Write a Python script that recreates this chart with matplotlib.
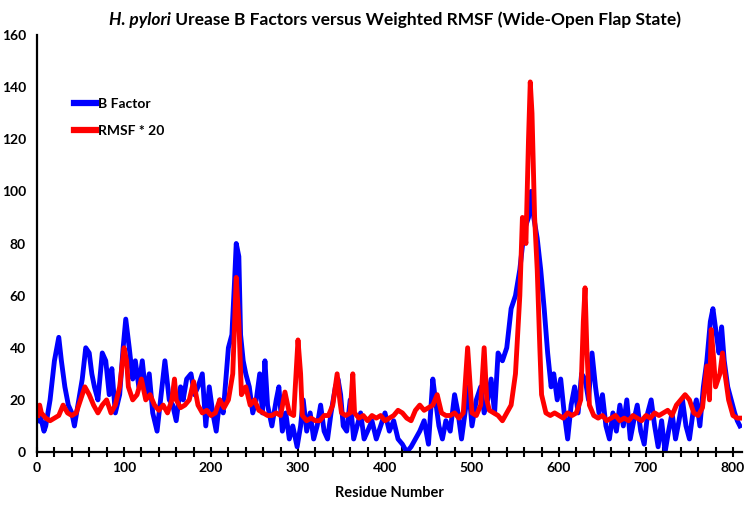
import matplotlib
matplotlib.use("Agg")
import matplotlib.pyplot as plt
from matplotlib.ticker import MultipleLocator, FuncFormatter

plt.rcParams['font.family'] = ['Lato', 'DejaVu Sans']

# B factor (blue) readings: residue, value
bf_res = [1, 3, 8, 10, 15, 20, 25, 28, 32, 36, 40, 43, 47, 52, 56, 60, 63, 66, 70, 75, 79, 83, 86, 90, 95, 99,
          102, 106, 110, 113, 117, 121, 125, 129, 133, 138, 142, 147, 152, 156, 160, 165, 168, 172, 177, 181,
          185, 190, 194, 198, 202, 206, 210, 214, 220, 224, 227, 229, 232, 234, 237, 240, 244, 248, 252, 256,
          259, 262, 265, 270, 275, 278, 282, 286, 290, 294, 299, 303, 306, 310, 314, 318, 322, 326, 330, 334,
          338, 343, 346, 349, 352, 356, 360, 364, 368, 372, 376, 380, 385, 390, 395, 400, 405, 410, 415, 420,
          425, 430, 435, 440, 445, 450, 455, 458, 462, 466, 470, 475, 480, 484, 488, 492, 496, 500, 505, 510,
          514, 518, 522, 526, 530, 535, 540, 545, 550, 555, 560, 565, 568, 571, 575, 579, 583, 587, 591, 594,
          598, 602, 606, 610, 614, 618, 622, 626, 630, 634, 638, 642, 646, 650, 654, 658, 662, 666, 670, 674,
          678, 682, 686, 690, 694, 698, 702, 706, 710, 714, 718, 722, 726, 730, 734, 738, 742, 746, 750, 754,
          758, 762, 766, 770, 774, 777, 781, 784, 787, 790, 794, 798, 802, 805, 808]
bf_val = [12, 15, 8, 10, 20, 35, 44, 35, 25, 18, 15, 10, 18, 28, 40, 38, 30, 25, 20, 38, 35, 22, 32, 15, 22, 40,
          51, 40, 28, 35, 25, 35, 22, 30, 15, 8, 20, 35, 20, 18, 12, 25, 20, 28, 30, 22,
          25, 30, 10, 25, 15, 8, 20, 15, 40, 45, 65, 80, 75, 45, 35, 30, 25, 15, 20, 30,
          15, 35, 18, 10, 20, 25, 8, 15, 5, 10, 2, 10, 20, 8, 15, 5, 10, 18, 8, 5,
          15, 25, 28, 22, 10, 8, 20, 5, 10, 15, 5, 8, 12, 5, 10, 15, 8, 12, 5, 3,
          0, 2, 5, 8, 12, 3, 28, 20, 10, 5, 12, 8, 22, 15, 5, 15, 25, 10, 20, 25,
          15, 20, 28, 15, 38, 35, 40, 55, 60, 70, 85, 90, 100, 90, 82, 70, 55, 38, 25, 30,
          20, 28, 15, 5, 18, 25, 15, 30, 28, 20, 38, 25, 15, 22, 10, 5, 15, 8, 18, 10,
          20, 5, 12, 18, 8, 3, 15, 20, 10, 2, 12, 0, 8, 15, 5, 12, 20, 10, 5, 15,
          20, 10, 25, 35, 50, 55, 45, 38, 48, 35, 25, 20, 15, 12, 10]

# RMSF * 20 (red) readings: residue, value
rm_res = [1, 3, 5, 10, 15, 20, 25, 30, 35, 40, 45, 50, 55, 60, 65, 70, 75, 80, 85, 90, 95, 100, 103, 105, 110,
          115, 120, 125, 130, 135, 140, 145, 150, 155, 158, 160, 165, 170, 175, 180, 185, 190, 195, 200, 205,
          210, 215, 220, 225, 229, 232, 235, 240, 245, 250, 255, 260, 265, 270, 275, 280, 285, 290, 295, 300,
          303, 305, 310, 315, 320, 325, 330, 335, 340, 345, 348, 350, 355, 360, 363, 365, 370, 375, 380, 385,
          390, 395, 400, 405, 410, 415, 420, 425, 430, 435, 440, 445, 450, 455, 460, 465, 470, 475, 480, 485,
          490, 495, 498, 500, 505, 510, 514, 517, 520, 525, 530, 535, 540, 545, 550, 555, 558, 562, 565, 567,
          569, 572, 575, 578, 580, 585, 590, 595, 600, 605, 610, 615, 620, 625, 628, 630, 632, 635, 640, 645,
          650, 655, 660, 665, 670, 675, 680, 685, 690, 695, 700, 705, 710, 715, 720, 725, 730, 735, 740, 745,
          750, 755, 760, 765, 770, 773, 775, 778, 780, 785, 788, 790, 795, 800, 805, 808]
rm_val = [14, 18, 15, 13, 12, 13, 14, 18, 15, 14, 15, 20, 25, 22, 18, 15, 18, 20, 15, 18, 25, 40, 35, 25, 20,
          22, 28, 20, 22, 18, 16, 18, 15, 20, 28, 20, 17, 18, 20, 27, 18, 15, 16, 14, 15,
          20, 17, 20, 30, 67, 50, 22, 25, 18, 20, 16, 15, 14, 14, 15, 14, 23, 15, 14, 43,
          30, 14, 12, 13, 12, 12, 14, 14, 18, 30, 20, 15, 14, 15, 30, 15, 13, 14, 12, 14,
          13, 14, 12, 13, 14, 16, 15, 13, 12, 16, 18, 16, 17, 18, 22, 15, 14, 14, 15, 13,
          15, 40, 25, 15, 14, 18, 40, 20, 16, 15, 14, 12, 15, 18, 30, 60, 90, 80, 120, 142,
          130, 90, 70, 40, 22, 15, 14, 15, 14, 13, 15, 14, 15, 20, 50, 63, 40, 18, 14, 13,
          14, 12, 13, 14, 12, 13, 12, 14, 13, 12, 14, 13, 15, 14, 15, 16, 14, 18, 20, 22,
          20, 15, 14, 17, 33, 20, 47, 35, 25, 30, 38, 32, 20, 14, 13, 13]

x_ticks = [0, 100, 200, 300, 400, 500, 600, 700, 800]
y_ticks = [0, 20, 40, 60, 80, 100, 120, 140, 160]

fig = plt.figure(figsize=(7.48, 5.27), dpi=100)
ax = fig.add_axes([0.0495, 0.1423, 0.942, 0.7913])

ax.plot(bf_res, bf_val, color='#0000FF', lw=3.5, label='B Factor', solid_joinstyle='round')
ax.plot(rm_res, rm_val, color='#FF0000', lw=3.5, label='RMSF * 20', solid_joinstyle='round')

ax.set_xlim(0, 810)
ax.set_ylim(0, 160)
ax.xaxis.set_major_locator(MultipleLocator(20))
ax.xaxis.set_major_formatter(FuncFormatter(lambda v, p: f"{int(round(v))}" if int(round(v)) in x_ticks else ""))
ax.set_yticks(y_ticks)
ax.tick_params(axis='x', direction='inout', length=7, width=1.5, labelsize=10, pad=4)
ax.tick_params(axis='y', length=0, labelsize=10, pad=8)
for lbl in ax.get_xticklabels() + ax.get_yticklabels():
    lbl.set_fontweight('bold')

for s in ['top', 'right']:
    ax.spines[s].set_visible(False)
for s in ['left', 'bottom']:
    ax.spines[s].set_linewidth(1.6)
    ax.spines[s].set_color('black')

ax.set_xlabel('Residue Number', fontsize=10.5, fontweight='bold', labelpad=8)

# Title: bold italic species name followed by bold text, centered together
renderer = fig.canvas.get_renderer()
t1 = fig.text(0, 0.962, 'H. pylori', ha='left', va='center', fontsize=12.5,
              fontweight='bold', fontstyle='italic')
t2 = fig.text(0, 0.962, ' Urease B Factors versus Weighted RMSF (Wide-Open Flap State)',
              ha='left', va='center', fontsize=12.5, fontweight='bold')
w1 = t1.get_window_extent(renderer).width
w2 = t2.get_window_extent(renderer).width
W = fig.get_figwidth() * fig.dpi
x0 = 0.528 * W - (w1 + w2) / 2
t1.set_x(x0 / W)
t2.set_x((x0 + w1) / W)

leg = ax.legend(loc='upper left', bbox_to_anchor=(0.035, 0.88), frameon=False, fontsize=10,
                handlelength=1.6, handletextpad=0.1, labelspacing=1.1)
for t in leg.get_texts():
    t.set_fontweight('bold')
for h in leg.get_lines():
    h.set_linewidth(4.5)

fig.savefig('out.png', dpi=100)
